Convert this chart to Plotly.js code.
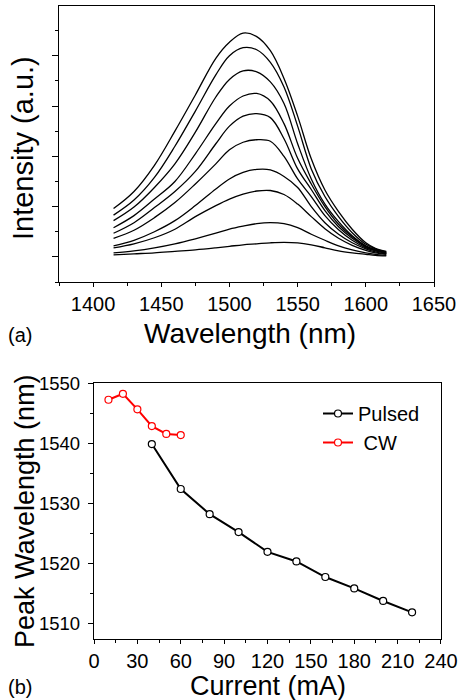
<!DOCTYPE html>
<html>
<head>
<meta charset="utf-8">
<script src="https://cdn.plot.ly/plotly-3.0.1.min.js"></script>
<style>
  html, body { margin: 0; padding: 0; background: #fff; }
  #chart { width: 460px; height: 700px; }
</style>
</head>
<body>
<div id="chart"></div>
<script>
// ---- Panel (a): emission spectra (pulsed, 40..220 mA) ----
const wavelength = [1415, 1430, 1445, 1460, 1475, 1490, 1500, 1510, 1520, 1530, 1540, 1550, 1560, 1570, 1580, 1590, 1600, 1607, 1615];
const i220 = [0.96, 1.30, 1.82, 2.50, 3.22, 3.95, 4.27, 4.45, 4.38, 4.10, 3.55, 2.80, 1.95, 1.33, 0.90, 0.55, 0.28, 0.17, 0.11];
const i200 = [0.83, 1.13, 1.58, 2.20, 2.90, 3.62, 4.00, 4.16, 4.12, 3.87, 3.38, 2.60, 1.75, 1.20, 0.80, 0.48, 0.25, 0.16, 0.10];
const i180 = [0.72, 0.99, 1.38, 1.85, 2.48, 3.18, 3.53, 3.70, 3.68, 3.48, 3.05, 2.25, 1.55, 1.05, 0.70, 0.42, 0.22, 0.14, 0.09];
const i160 = [0.58, 0.82, 1.15, 1.50, 2.05, 2.65, 3.00, 3.20, 3.25, 3.10, 2.65, 1.96, 1.45, 1.00, 0.65, 0.40, 0.21, 0.14, 0.08];
const i140 = [0.47, 0.68, 0.98, 1.30, 1.70, 2.25, 2.60, 2.80, 2.85, 2.77, 2.35, 1.75, 1.34, 0.92, 0.60, 0.37, 0.20, 0.13, 0.07];
const i120 = [0.37, 0.53, 0.78, 1.08, 1.45, 1.85, 2.13, 2.28, 2.33, 2.30, 2.00, 1.55, 1.20, 0.82, 0.54, 0.33, 0.18, 0.12, 0.07];
const i100 = [0.22, 0.33, 0.50, 0.72, 1.02, 1.35, 1.55, 1.68, 1.74, 1.73, 1.60, 1.38, 1.00, 0.68, 0.45, 0.28, 0.16, 0.10, 0.06];
const i80  = [0.18, 0.26, 0.38, 0.55, 0.80, 1.02, 1.15, 1.25, 1.31, 1.32, 1.24, 1.05, 0.80, 0.56, 0.37, 0.23, 0.13, 0.08, 0.05];
const i60  = [0.08, 0.12, 0.18, 0.26, 0.36, 0.47, 0.55, 0.61, 0.66, 0.68, 0.66, 0.58, 0.45, 0.33, 0.22, 0.14, 0.08, 0.05, 0.03];
const i40  = [0.04, 0.06, 0.08, 0.11, 0.14, 0.18, 0.21, 0.24, 0.26, 0.28, 0.29, 0.28, 0.24, 0.18, 0.12, 0.08, 0.05, 0.03, 0.02];
const spectra = [i220, i200, i180, i160, i140, i120, i100, i80, i60, i40];

// ---- Panel (b): peak wavelength vs current ----
const currentPulsed = [40, 60, 80, 100, 120, 140, 160, 180, 200, 220];
const peakPulsed = [1539.9, 1532.4, 1528.2, 1525.2, 1521.9, 1520.3, 1517.7, 1515.8, 1513.7, 1511.8];
const currentCW = [10, 20, 30, 40, 50, 60];
const peakCW = [1547.3, 1548.3, 1545.7, 1542.9, 1541.6, 1541.4];

const FONT = 'Liberation Sans, Arial, sans-serif';
const W = 460, H = 700;
const px = v => v / W;
const py = v => 1 - v / H;

const traces = spectra.map(s => ({
  x: wavelength, y: s, type: 'scatter', mode: 'lines',
  line: { color: '#000', width: 1.3, shape: 'spline', smoothing: 1 },
  xaxis: 'x', yaxis: 'y', showlegend: false, hoverinfo: 'skip'
}));

traces.push({
  x: currentPulsed, y: peakPulsed, type: 'scatter', mode: 'lines+markers',
  name: 'Pulsed', xaxis: 'x2', yaxis: 'y2',
  line: { color: '#000', width: 2 },
  marker: { symbol: 'circle', size: 7, color: '#fff', line: { color: '#000', width: 1.2 } }
});
traces.push({
  x: currentCW, y: peakCW, type: 'scatter', mode: 'lines+markers',
  name: '\u00a0CW', xaxis: 'x2', yaxis: 'y2',
  line: { color: '#ff0000', width: 2 },
  marker: { symbol: 'circle', size: 7, color: '#fff', line: { color: '#ff0000', width: 1.2 } }
});

const axisCommon = {
  showline: true, mirror: true, linecolor: '#000', linewidth: 1.2,
  showgrid: false, zeroline: false, ticks: 'outside', tickcolor: '#000',
  tickwidth: 1, fixedrange: true, automargin: false,
  tickfont: { family: FONT, size: 20, color: '#000' }
};

const layout = {
  width: W, height: H,
  margin: { l: 0, r: 0, t: 0, b: 0, pad: 0 },
  paper_bgcolor: '#fff', plot_bgcolor: '#fff',
  font: { family: FONT, color: '#000' },
  xaxis: Object.assign({}, axisCommon, {
    domain: [px(59), px(434)], range: [1375, 1650], anchor: 'y',
    tick0: 1400, dtick: 50, ticklen: 4, ticklabelstandoff: 0,
    minor: { dtick: 25, ticks: 'outside', ticklen: 3, tickcolor: '#000' },
    tickfont: { family: FONT, size: 20, color: '#000' }
  }),
  yaxis: Object.assign({}, axisCommon, {
    domain: [py(282), py(6)], range: [-0.5, 4.99], anchor: 'x',
    tick0: 0, dtick: 1, ticklen: 6, showticklabels: false,
    minor: { dtick: 0.5, ticks: 'outside', ticklen: 3, tickcolor: '#000' }
  }),
  xaxis2: Object.assign({}, axisCommon, {
    domain: [px(94), px(441)], range: [0, 240.01], anchor: 'y2',
    tick0: 0, dtick: 30, ticklen: 4, ticklabelstandoff: 0,
    minor: { dtick: 15, ticks: 'outside', ticklen: 3, tickcolor: '#000' },
    tickfont: { family: FONT, size: 20, color: '#000' }
  }),
  yaxis2: Object.assign({}, axisCommon, {
    domain: [py(638.7), py(383.3)], range: [1507.4, 1550.05], anchor: 'x2',
    tick0: 1510, dtick: 10, ticklen: 5, ticklabelstandoff: 4,
    minor: { dtick: 5, ticks: 'outside', ticklen: 3, tickcolor: '#000' },
    tickfont: { family: FONT, size: 18.5, color: '#000' }
  }),
  legend: {
    x: px(318), y: py(394), xanchor: 'left', yanchor: 'top',
    bgcolor: 'rgba(0,0,0,0)', borderwidth: 0,
    font: { family: FONT, size: 20, color: '#000' }
  },
  annotations: [
    { text: 'Intensity (a.u.)', xref: 'paper', yref: 'paper', x: px(23), y: py(148), textangle: -90,
      xanchor: 'center', yanchor: 'middle', showarrow: false, font: { family: FONT, size: 29 } },
    { text: 'Wavelength (nm)', xref: 'paper', yref: 'paper', x: px(250), y: py(333),
      xanchor: 'center', yanchor: 'middle', showarrow: false, font: { family: FONT, size: 28 } },
    { text: '(a)', xref: 'paper', yref: 'paper', x: px(20), y: py(335),
      xanchor: 'center', yanchor: 'middle', showarrow: false, font: { family: FONT, size: 20 } },
    { text: 'Peak Wavelength (nm)', xref: 'paper', yref: 'paper', x: px(25), y: py(511), textangle: -90,
      xanchor: 'center', yanchor: 'middle', showarrow: false, font: { family: FONT, size: 27 } },
    { text: 'Current (mA)', xref: 'paper', yref: 'paper', x: px(268), y: py(686),
      xanchor: 'center', yanchor: 'middle', showarrow: false, font: { family: FONT, size: 27 } },
    { text: '(b)', xref: 'paper', yref: 'paper', x: px(20), y: py(687),
      xanchor: 'center', yanchor: 'middle', showarrow: false, font: { family: FONT, size: 20 } }
  ]
};

Plotly.newPlot('chart', traces, layout, { staticPlot: true, displayModeBar: false });
</script>
</body>
</html>
